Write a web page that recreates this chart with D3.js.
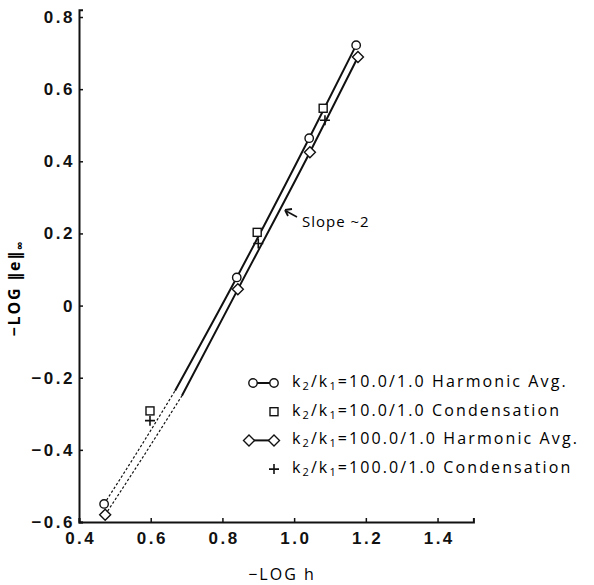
<!DOCTYPE html>
<html>
<head>
<meta charset="utf-8">
<script src="https://cdn.jsdelivr.net/npm/d3@7"></script>
<style>
  body { margin: 0; background: #fff; }
  svg { font-family: "Open Sans", "DejaVu Sans", sans-serif; }
  .tick text { font-family: "Liberation Sans", sans-serif; font-weight: bold; font-size: 17px; letter-spacing: 2.5px; fill: #111; }
  .domain { stroke: #111; stroke-width: 2; }
  .tick line { stroke: #111; stroke-width: 1.5; }
</style>
</head>
<body>
<div class="chart"></div>
<script>
// data (x = -LOG h, y = -LOG ||e||)
const harm10 = [[0.470, -0.550], [0.840, 0.078], [1.042, 0.464], [1.173, 0.722]];
const cond10 = [[0.598, -0.292], [0.897, 0.203], [1.081, 0.547]];
const harm100 = [[0.473, -0.580], [0.843, 0.045], [1.044, 0.425], [1.178, 0.689]];
const cond100 = [[0.598, -0.319], [0.900, 0.172], [1.086, 0.514]];

// fitted lines: solid part and dotted extrapolation
const fit10Solid = [[0.668, -0.236], [0.840, 0.078], [1.042, 0.464], [1.173, 0.722]];
const fit10Dotted = [[0.470, -0.550], [0.560, -0.410], [0.668, -0.236]];
const fit100Solid = [[0.687, -0.250], [0.843, 0.045], [1.044, 0.425], [1.178, 0.689]];
const fit100Dotted = [[0.473, -0.580], [0.575, -0.425], [0.687, -0.250]];

const xTicks = [0.4, 0.6, 0.8, 1.0, 1.2, 1.4];
const yTicks = [-0.6, -0.4, -0.2, 0, 0.2, 0.4, 0.6, 0.8];

const legendLabels = [
  { ratio: "10.0/1.0", method: "Harmonic Avg.", sym: "circle" },
  { ratio: "10.0/1.0", method: "Condensation", sym: "square" },
  { ratio: "100.0/1.0", method: "Harmonic Avg.", sym: "diamond" },
  { ratio: "100.0/1.0", method: "Condensation", sym: "plus" }
];

const width = 594, height = 585;
const svg = d3.select(".chart").append("svg")
  .attr("width", width).attr("height", height);

const x = d3.scaleLinear().domain([0.4, 1.5]).range([79, 473.4]);
const y = d3.scaleLinear().domain([-0.6, 0.82]).range([522, 9.8]);

// axes
svg.append("g")
  .attr("transform", `translate(0,${y(-0.6)})`)
  .call(d3.axisBottom(x).tickValues(xTicks).tickSize(-4).tickPadding(10)
    .tickFormat(d3.format(".1f")))
  .call(g => g.selectAll(".tick text").attr("dx", "1.2px"));

svg.append("g")
  .attr("transform", `translate(${x(0.4)},0)`)
  .call(d3.axisLeft(y).tickValues(yTicks).tickSize(-4).tickPadding(4)
    .tickFormat(d => d === 0 ? "0" : d3.format(".1f")(d).replace("-", "\u2212")));

// axis titles
svg.append("text")
  .attr("x", 282).attr("y", 580)
  .attr("text-anchor", "middle")
  .style("font-size", "16px").style("letter-spacing", "2px")
  .text("\u2212LOG  h");

const yt = svg.append("text")
  .attr("transform", "translate(20,288) rotate(-90)")
  .attr("text-anchor", "middle")
  .style("font-size", "16px").style("font-weight", "bold").style("letter-spacing", "1.8px");
yt.append("tspan").text("\u2212LOG \u2016e\u2016");
yt.append("tspan").attr("dy", 4).style("font-size", "12px").text("\u221e");

// lines
const line = d3.line().x(d => x(d[0])).y(d => y(d[1])).curve(d3.curveMonotoneX);

[fit10Solid, fit100Solid].forEach(d => {
  svg.append("path").datum(d).attr("d", line)
    .attr("fill", "none").attr("stroke", "#111").attr("stroke-width", 2);
});
[fit10Dotted, fit100Dotted].forEach(d => {
  svg.append("path").datum(d).attr("d", line)
    .attr("fill", "none").attr("stroke", "#111").attr("stroke-width", 1.2)
    .attr("stroke-dasharray", "2.5,2");
});

// markers
function marker(g, sym, cx, cy) {
  if (sym === "circle") {
    g.append("circle").attr("cx", cx).attr("cy", cy).attr("r", 4.2)
      .attr("fill", "#fff").attr("stroke", "#111").attr("stroke-width", 1.4);
  } else if (sym === "square") {
    g.append("rect").attr("x", cx - 4).attr("y", cy - 4).attr("width", 8).attr("height", 8)
      .attr("fill", "#fff").attr("stroke", "#111").attr("stroke-width", 1.4);
  } else if (sym === "diamond") {
    g.append("path").attr("d", `M${cx},${cy - 5.5}L${cx + 5.5},${cy}L${cx},${cy + 5.5}L${cx - 5.5},${cy}Z`)
      .attr("fill", "#fff").attr("stroke", "#111").attr("stroke-width", 1.4);
  } else {
    g.append("path").attr("d", `M${cx - 5},${cy}H${cx + 5}M${cx},${cy - 5}V${cy + 5}`)
      .attr("fill", "none").attr("stroke", "#111").attr("stroke-width", 1.6);
  }
}

const pts = svg.append("g");
harm10.forEach(d => marker(pts, "circle", x(d[0]), y(d[1])));
harm100.forEach(d => marker(pts, "diamond", x(d[0]), y(d[1])));
cond10.forEach(d => marker(pts, "square", x(d[0]), y(d[1])));
cond100.forEach(d => marker(pts, "plus", x(d[0]), y(d[1])));

// slope annotation
svg.append("path").attr("d", "M297,217L286,211")
  .attr("stroke", "#111").attr("stroke-width", 1.6).attr("fill", "none");
svg.append("path").attr("d", "M285,210L292,209M285,210L288,216")
  .attr("stroke", "#111").attr("stroke-width", 1.8).attr("fill", "none");
svg.append("text").attr("x", 302).attr("y", 227)
  .style("font-size", "15px").style("letter-spacing", "1px")
  .text("Slope ~2");

// legend
const leg = svg.append("g");
legendLabels.forEach((d, i) => {
  const by = 387 + i * 28.7;
  const my = by - 4;
  if (d.sym === "circle" || d.sym === "diamond") {
    const x0 = d.sym === "circle" ? 253 : 249, x1 = 274;
    leg.append("line").attr("x1", x0).attr("x2", x1).attr("y1", my).attr("y2", my)
      .attr("stroke", "#111").attr("stroke-width", 2);
    marker(leg, d.sym, x0, my);
    marker(leg, d.sym, x1, my);
  } else {
    marker(leg, d.sym, 274, my);
  }
  const t = leg.append("text").attr("x", 292).attr("y", by)
    .style("font-size", "16px").style("letter-spacing", "2.1px");
  t.append("tspan").text("k");
  t.append("tspan").attr("dy", 3).style("font-size", "11px").text("2");
  t.append("tspan").attr("dy", -3).text("/k");
  t.append("tspan").attr("dy", 3).style("font-size", "11px").text("1");
  t.append("tspan").attr("dy", -3).text("=" + d.ratio + "  " + d.method);
});
</script>
</body>
</html>
